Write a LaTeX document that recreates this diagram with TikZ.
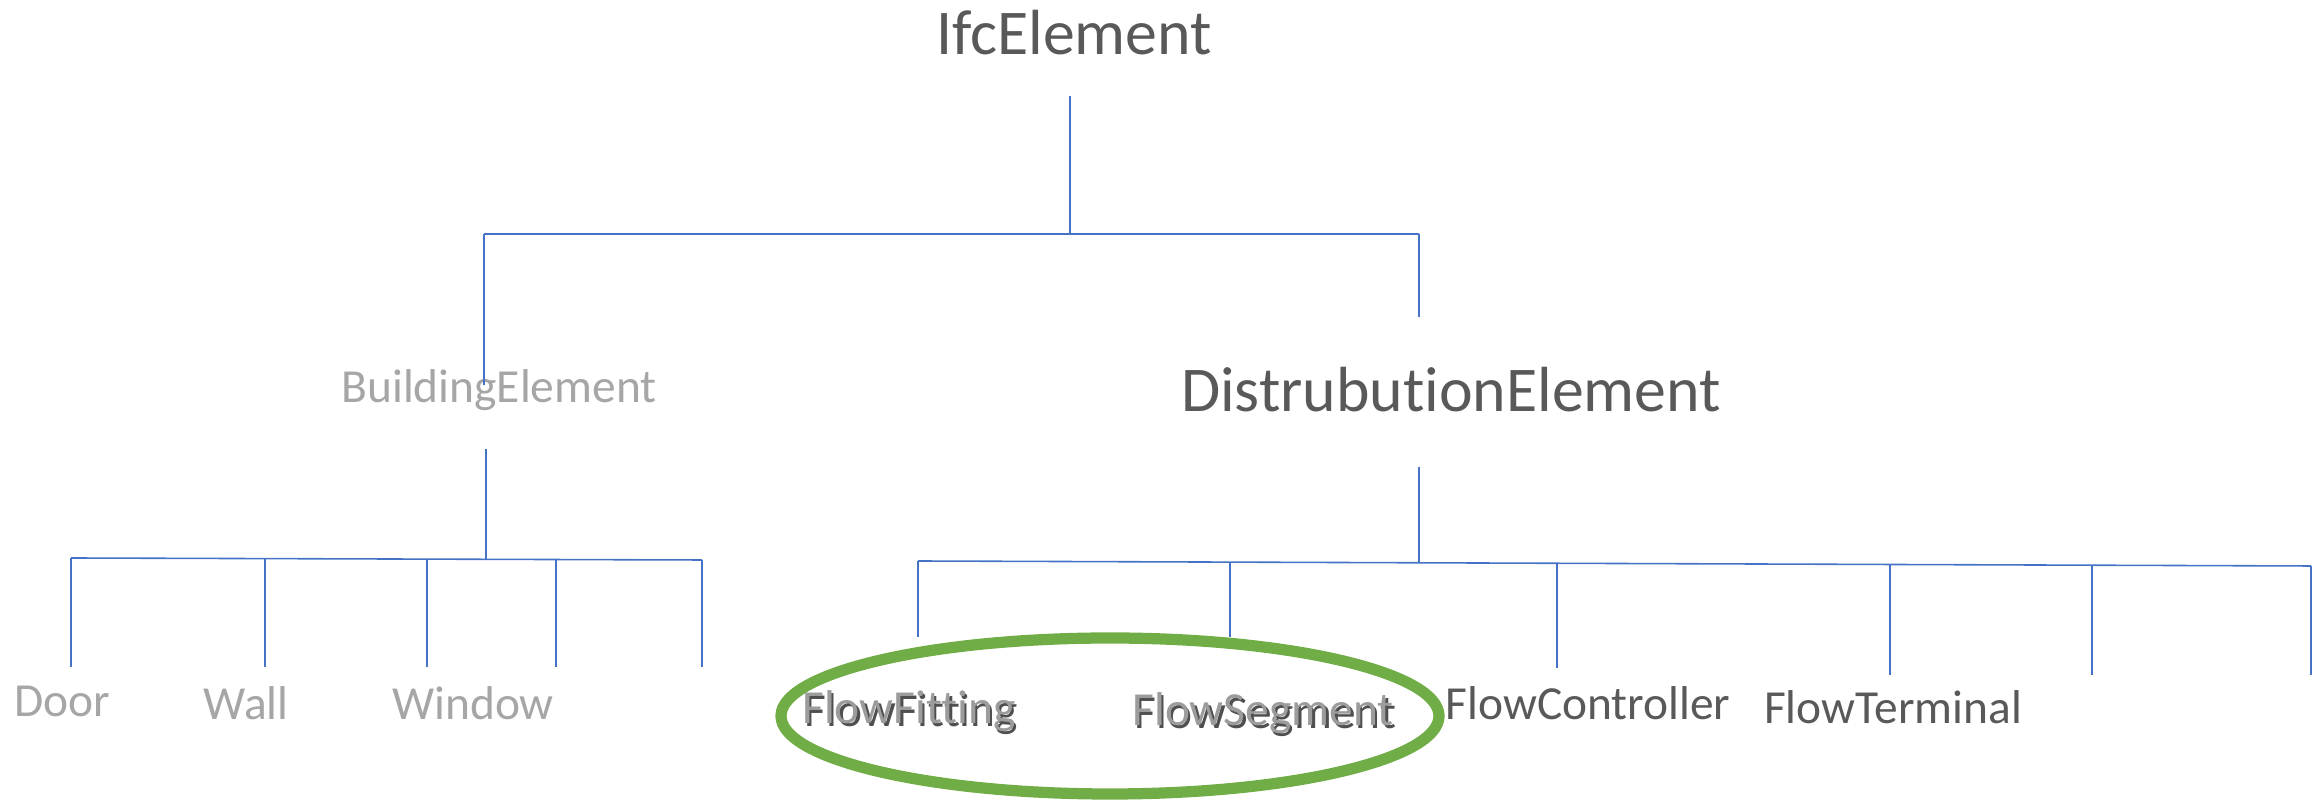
\documentclass[tikz,border=0pt]{standalone}
\usepackage{fontspec}
\setmainfont{Carlito}[Ligatures=NoCommon]
\usepackage{xcolor}
\usepackage{tikz}
\usetikzlibrary{positioning,calc,shapes}

\definecolor{linkblue}{HTML}{4472C4}
\definecolor{darktext}{HTML}{595959}
\definecolor{lighttext}{HTML}{A6A6A6}
\definecolor{midtext}{HTML}{9C9C9C}
\definecolor{shadowtext}{HTML}{4F4F4F}
\definecolor{ringgreen}{HTML}{70AD47}

\newcommand{\shadowed}[1]{\makebox[0pt][l]{\kern0.7pt\raisebox{-0.7pt}{\color{shadowtext}#1}}{\color{midtext}#1}}

\tikzset{
  bigname/.style={inner sep=0pt,anchor=base,text=darktext,font=\fontsize{18.15}{21}\selectfont},
  leafname/.style={inner sep=0pt,anchor=base,font=\fontsize{13.5}{16}\selectfont},
  branch/.style={linkblue,line width=0.45pt},
}

\begin{document}
\begin{tikzpicture}
\useasboundingbox (0,0) rectangle (23.23,8);

% Root
\node[bigname] (ifc) at (10.74,7.45) {IfcElement};
\coordinate (ifcS) at (10.70,7.04);
\coordinate (ifcJ) at (10.70,5.66);
\coordinate (rootL) at (4.84,5.66);
\coordinate (rootR) at (14.19,5.66);
\draw[branch] (ifcS) -- (ifcJ);
\draw[branch] (rootL) -- (rootR);

% Second level
\node[leafname,text=lighttext] (build) at (4.99,3.97) {BuildingElement};
\node[bigname] (dist) at (14.51,3.88) {DistrubutionElement};
\draw[branch] (rootL) -- (4.84,4.15) coordinate (buildN);
\draw[branch] (rootR) -- (14.19,4.83) coordinate (distN);

% Building branch
\coordinate (buildS) at (4.86,3.51);
\coordinate (buildJ) at (4.86,2.41);
\draw[branch] (buildS) -- (buildJ);
\foreach \i/\x/\y in {1/0.71/2.42, 2/2.65/2.415, 3/4.27/2.41, 4/5.56/2.405, 5/7.02/2.40}
    \draw[branch] (\x,\y) coordinate (bt\i) -- (\x,1.33) coordinate (bb\i);
\draw[branch] (bt1) -- (bt5);
\node[leafname,text=lighttext] (door) at (0.62,0.83) {Door};
\node[leafname,text=lighttext] (wall) at (2.46,0.80) {Wall};
\node[leafname,text=lighttext] (window) at (4.73,0.80) {Window};

% Distribution branch
\coordinate (distS) at (14.19,3.33);
\coordinate (distJ) at (14.19,2.37);
\draw[branch] (distS) -- (distJ);
\foreach \i/\x/\y/\e in {1/9.18/2.39/1.63, 2/12.30/2.38/1.63, 3/15.57/2.37/1.32,
                         4/18.90/2.355/1.25, 5/20.92/2.35/1.25, 6/23.11/2.34/1.25}
    \draw[branch] (\x,\y) coordinate (dt\i) -- (\x,\e) coordinate (db\i);
\draw[branch] (dt1) -- (dt6);
\node[leafname] (fitting) at (9.09,0.76) {\shadowed{FlowFitting}};
\node[leafname] (segment) at (12.63,0.74) {\shadowed{FlowSegment}};
\node[leafname,text=darktext] (controller) at (15.88,0.80) {FlowController};
\node[leafname,text=darktext] (terminal) at (18.93,0.76) {FlowTerminal};

% Highlight ring
\node[draw=ringgreen,line width=3.2pt,ellipse,minimum width=6.58cm,minimum height=1.56cm] (ring) at (11.10,0.84) {};
\end{tikzpicture}
\end{document}
